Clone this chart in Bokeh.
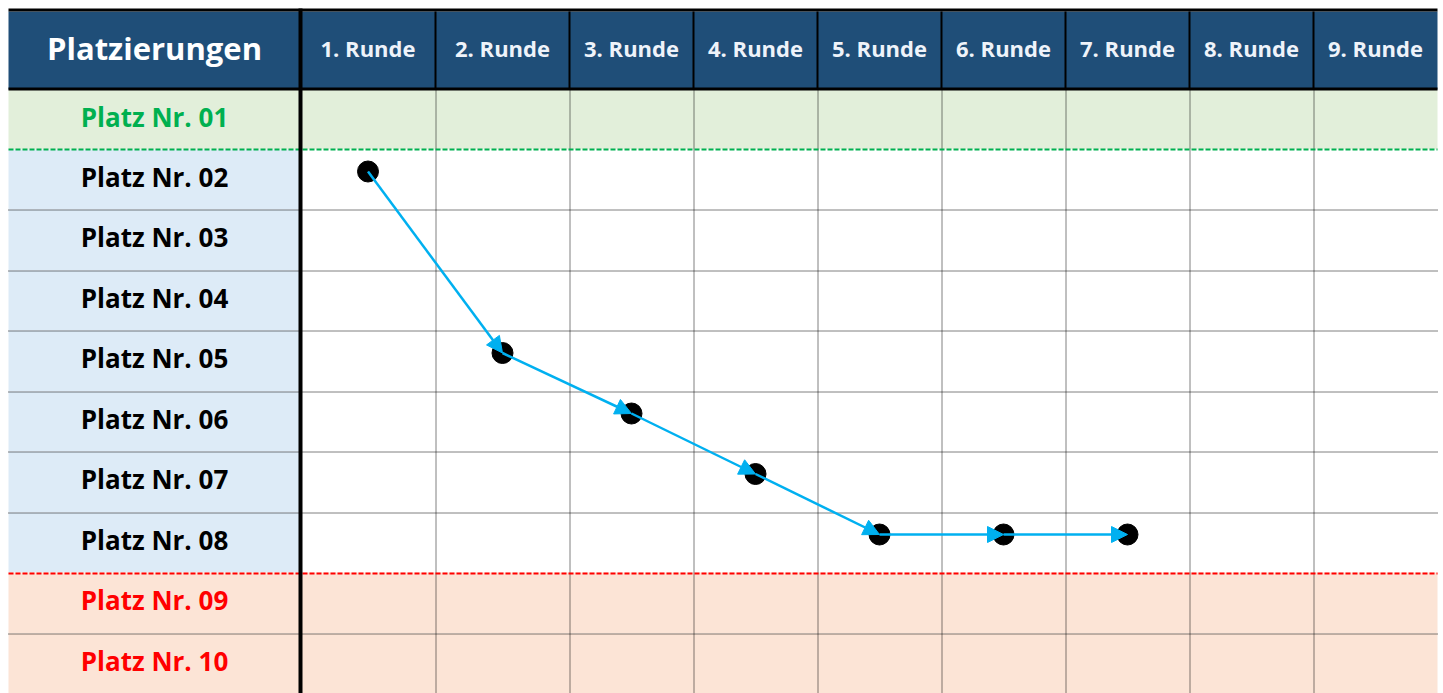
from bokeh.plotting import figure
from bokeh.models import Range1d, Arrow, NormalHead, ColumnDataSource
from bokeh.core.properties import value
from bokeh.embed import file_html
from bokeh.resources import INLINE

# ---------------- data ----------------
title = "Platzierungen"
rounds = ["1. Runde", "2. Runde", "3. Runde", "4. Runde", "5. Runde",
          "6. Runde", "7. Runde", "8. Runde", "9. Runde"]
places = ["Platz Nr. 01", "Platz Nr. 02", "Platz Nr. 03", "Platz Nr. 04",
          "Platz Nr. 05", "Platz Nr. 06", "Platz Nr. 07", "Platz Nr. 08",
          "Platz Nr. 09", "Platz Nr. 10"]
played_rounds = [1, 2, 3, 4, 5, 6, 7]
ranking = [2, 5, 6, 7, 8, 8, 8]

# ---------------- layout / style ----------------
COL_EDGES = [8, 300, 435, 569, 693, 817, 941, 1065, 1189, 1313, 1437]
ROW_EDGES = [89, 149, 209, 270, 330, 391, 451, 512, 572, 633, 694]
TOP = 8
HEADER_TOP = 11
RIGHT = COL_EDGES[-1]
LEFT = COL_EDGES[0]
LABEL_R = COL_EDGES[1]
DOT_DY = -8
TEXT_DY = -3

HEADER_BG = "#1F4E78"
GREEN_BG = "#E2EFDA"
BLUE_BG = "#DDEBF7"
RED_BG = "#FCE4D6"
ARROW_C = "#00B0F0"
FONT = value("Open Sans")


def zone(i):  # i = place number 1..10
    if i == 1:
        return "up"
    if i >= 9:
        return "down"
    return "mid"


label_fill = {"up": GREEN_BG, "mid": BLUE_BG, "down": RED_BG}
area_fill = {"up": GREEN_BG, "mid": "#FFFFFF", "down": RED_BG}
text_col = {"up": "#00B050", "mid": "#000000", "down": "#FF0000"}

p = figure(width=1443, height=693, output_backend="svg", toolbar_location=None,
           x_range=Range1d(0, 1443), y_range=Range1d(693, 0),
           x_axis_type=None, y_axis_type=None, min_border=0,
           background_fill_color="white", border_fill_color="white")
p.outline_line_color = None
p.grid.visible = False

# cell fills
n = len(places)
zones = [zone(i + 1) for i in range(n)]
tops = ROW_EDGES[:-1]
bots = ROW_EDGES[1:]
p.quad(left=[LEFT] * n, right=[LABEL_R] * n, top=tops, bottom=bots,
       fill_color=[label_fill[z] for z in zones], line_color=None)
p.quad(left=[LABEL_R] * n, right=[RIGHT] * n, top=tops, bottom=bots,
       fill_color=[area_fill[z] for z in zones], line_color=None)
# header fill
p.quad(left=[LEFT], right=[RIGHT], top=[HEADER_TOP], bottom=[ROW_EDGES[0]],
       fill_color=HEADER_BG, line_color=None)

# dotted grid (half-pixel aligned)
hy = [y + 0.5 for y in ROW_EDGES[2:-1] if y != ROW_EDGES[8]]
p.segment(x0=[LEFT] * len(hy), x1=[RIGHT] * len(hy), y0=hy, y1=hy,
          line_color="black", line_width=1, line_dash="1 1")
vx = [x + 0.5 for x in COL_EDGES[2:-1]]
p.segment(x0=vx, x1=vx, y0=[ROW_EDGES[0]] * len(vx), y1=[ROW_EDGES[-1]] * len(vx),
          line_color="black", line_width=1, line_dash="1 1")

# zone separators
p.segment(x0=[LEFT], x1=[RIGHT], y0=[ROW_EDGES[1]], y1=[ROW_EDGES[1]],
          line_color="#00B050", line_width=2, line_dash="5 2")
p.segment(x0=[LEFT], x1=[RIGHT], y0=[ROW_EDGES[8] + 1], y1=[ROW_EDGES[8] + 1],
          line_color="#FF0000", line_width=2, line_dash="5 2")

# header separators
p.segment(x0=[x - 0.5 for x in vx], x1=[x - 0.5 for x in vx],
          y0=[HEADER_TOP] * len(vx), y1=[ROW_EDGES[0]] * len(vx),
          line_color="black", line_width=2)
# top / header bottom lines
p.segment(x0=[LEFT, LEFT], x1=[RIGHT, RIGHT], y0=[9.5, ROW_EDGES[0] - 0.5],
          y1=[9.5, ROW_EDGES[0] - 0.5], line_color="black", line_width=3)
# thick label column line
p.segment(x0=[LABEL_R], x1=[LABEL_R], y0=[TOP], y1=[ROW_EDGES[-1]],
          line_color="black", line_width=4)

# texts
label_cx = (LEFT + LABEL_R) / 2
header_cy = (HEADER_TOP + ROW_EDGES[0]) / 2
p.text(x=[label_cx], y=[header_cy], text=[title], text_align="center",
       text_baseline="middle", text_font=FONT, text_font_style="bold",
       text_font_size="31px", text_color="white", y_offset=TEXT_DY)

col_cx = [(COL_EDGES[i + 1] + COL_EDGES[i + 2]) / 2 for i in range(len(rounds))]
p.text(x=col_cx, y=[header_cy] * len(rounds), text=rounds, text_align="center",
       text_baseline="middle", text_font=FONT, text_font_style="bold",
       text_font_size="22px", text_color="#EEF3FA", y_offset=TEXT_DY)

row_cy = [(ROW_EDGES[i] + ROW_EDGES[i + 1]) / 2 for i in range(n)]
p.text(x=[label_cx] * n, y=row_cy, text=places, text_align="center",
       text_baseline="middle", text_font=FONT, text_font_style="bold",
       text_font_size="26px", text_color=[text_col[z] for z in zones],
       y_offset=TEXT_DY)

# data points
px = [col_cx[r - 1] for r in played_rounds]
py = [row_cy[k - 1] + DOT_DY for k in ranking]
p.scatter(x=px, y=py, size=21, fill_color="black", line_color="black")

src = ColumnDataSource(dict(x0=px[:-1], y0=py[:-1], x1=px[1:], y1=py[1:]))
p.add_layout(Arrow(end=NormalHead(size=16, fill_color=ARROW_C, line_color=ARROW_C),
                   x_start="x0", y_start="y0", x_end="x1", y_end="y1",
                   source=src, line_color=ARROW_C, line_width=2.5))

open("out.html", "w").write(file_html(p, INLINE))
